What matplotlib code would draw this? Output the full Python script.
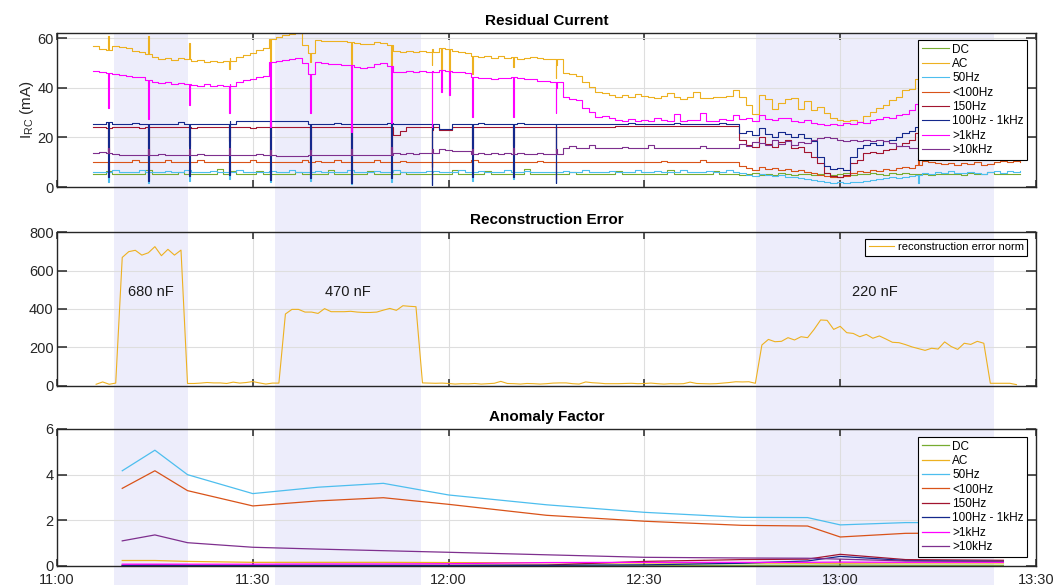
import numpy as np
import matplotlib
matplotlib.use("Agg")
import matplotlib.pyplot as plt
from matplotlib.patches import Rectangle
from matplotlib.transforms import blended_transform_factory

plt.rcParams['font.family'] = ['Liberation Sans', 'DejaVu Sans']
plt.rcParams['mathtext.fontset'] = 'custom'
plt.rcParams['mathtext.rm'] = 'Liberation Sans'
plt.rcParams['mathtext.it'] = 'Liberation Sans:italic'

# --- dados (tempo em minutos depois das 11:00) ---
BANDS = ['DC', 'AC', '50Hz', '<100Hz', '150Hz', '100Hz - 1kHz', '>1kHz', '>10kHz']
COLORS = ['#77AC30', '#EDB120', '#4DBEEE', '#D95319', '#A2142F', '#14288C', '#FF00FF', '#7E2F8E']

# corrente residual, uma amostra por minuto
T_RC = np.arange(5.5, 148.0, 1.0)

dc_ma = [5.3, 5.3, 6.4, 5.3, 5.3, 5.3, 5.3, 5.3, 6.8, 5.3,
         5.3, 5.3, 5.3, 6.2, 5.3, 5.3, 5.3, 5.3, 5.3, 7.2,
         5.3, 6.4, 5.3, 5.3, 5.3, 6.6, 5.3, 5.3, 5.3, 5.3,
         5.3, 6.2, 5.3, 5.3, 5.3, 5.3, 7.0, 5.3, 5.3, 5.3,
         5.3, 5.3, 6.6, 5.3, 5.3, 5.3, 5.3, 6.2, 5.3, 5.3,
         5.3, 5.3, 5.3, 5.3, 5.3, 6.8, 5.3, 5.3, 5.3, 5.3,
         6.4, 5.3, 5.3, 5.3, 5.3, 5.3, 7.4, 5.3, 5.3, 5.3,
         5.3, 5.3, 5.3, 6.2, 5.3, 5.3, 5.3, 5.3, 5.3, 5.3,
         6.6, 5.3, 5.3, 5.3, 5.3, 5.3, 5.3, 5.3, 6.9, 5.3,
         5.3, 5.3, 5.3, 5.3, 5.3, 6.4, 5.3, 5.3, 5.3, 5.0,
         5.4, 5.8, 5.0, 5.4, 4.8, 5.6, 5.2, 4.9, 5.4, 5.1,
         4.8, 5.3, 5.6, 4.9, 5.2, 5.5, 5.0, 5.4, 5.2, 5.8,
         5.3, 5.0, 5.5, 5.2, 5.6, 5.1, 5.4, 5.2, 5.0, 5.3,
         5.4, 5.1, 5.2, 5.0, 5.5, 5.3, 5.1, 6.2, 5.2, 5.3,
         5.1, 5.4, 5.2]

ac_ma = [56.9, 55.6, 55.0, 56.9, 56.3, 55.8, 54.9, 54.4, 53.6, 52.2,
         51.5, 52.0, 51.2, 51.8, 51.4, 50.8, 51.2, 50.4, 50.9, 50.2,
         50.6, 51.8, 52.4, 53.2, 53.8, 55.0, 56.0, 59.6, 60.4, 61.2,
         61.6, 62.0, 57.0, 54.0, 59.2, 58.8, 59.0, 58.6, 58.9, 58.4,
         57.8, 57.4, 57.6, 58.2, 57.8, 57.2, 54.9, 54.4, 54.8, 54.2,
         54.6, 54.3, 55.6, 55.8, 55.4, 54.9, 54.3, 54.0, 52.9, 52.4,
         52.8, 52.1, 52.6, 51.9, 52.2, 51.6, 52.0, 52.4, 51.8, 51.4,
         51.6, 49.0, 46.0, 45.4, 44.6, 42.4, 40.2, 38.3, 37.8, 37.2,
         36.4, 36.9, 36.1, 37.5, 36.6, 36.2, 35.8, 36.6, 37.9, 36.3,
         35.6, 36.4, 38.3, 36.0, 35.8, 36.2, 36.1, 36.6, 38.9, 36.2,
         33.0, 29.6, 37.0, 35.4, 31.6, 33.8, 35.6, 36.0, 31.4, 34.6,
         30.9, 32.4, 29.8, 27.6, 27.0, 26.5, 26.9, 26.2, 28.6, 30.2,
         31.8, 33.0, 34.9, 36.4, 38.9, 39.6, 43.6, 42.0, 41.2, 40.4,
         41.6, 42.4, 40.8, 41.4, 42.2, 41.0, 40.6, 41.8, 42.6, 41.2,
         40.4, 41.6, 42.0]

hz50_ma = [6.0, 6.0, 6.0, 6.9, 6.0, 6.0, 6.0, 6.9, 6.0, 6.0,
           6.0, 6.6, 6.0, 6.0, 6.9, 6.0, 6.0, 6.0, 6.6, 6.0,
           6.0, 6.0, 6.9, 6.0, 6.0, 6.0, 6.0, 6.6, 6.0, 6.0,
           6.9, 6.0, 6.0, 6.0, 6.6, 6.0, 6.0, 6.0, 6.0, 6.9,
           6.0, 6.0, 6.0, 6.6, 6.0, 6.0, 6.9, 6.0, 6.0, 6.0,
           6.0, 6.6, 6.0, 6.0, 6.0, 6.0, 6.9, 6.0, 6.0, 6.6,
           6.0, 6.0, 6.0, 6.9, 6.0, 6.0, 6.6, 6.0, 6.0, 6.0,
           6.0, 6.0, 6.6, 6.0, 6.0, 6.9, 6.0, 6.0, 6.0, 6.6,
           6.0, 6.0, 6.0, 6.9, 6.0, 6.0, 6.6, 6.0, 6.0, 6.0,
           6.9, 6.0, 6.0, 6.0, 6.6, 6.0, 6.0, 6.9, 6.0, 5.6,
           5.0, 4.6, 5.2, 4.8, 4.4, 4.8, 4.2, 4.0, 3.6, 3.4,
           3.0, 2.6, 2.2, 1.8, 2.0, 1.6, 2.0, 2.2, 2.6, 3.0,
           3.4, 3.6, 4.0, 3.8, 4.2, 4.4, 4.8, 5.8, 5.4, 6.0,
           5.6, 6.4, 5.8, 5.6, 6.2, 5.8, 5.4, 6.0, 6.6, 5.8,
           6.4, 6.2, 6.6]

lt100_ma = [10.0, 10.0, 10.0, 10.0, 10.0, 10.0, 10.8, 10.0, 10.0, 10.0,
            10.0, 10.8, 10.0, 10.0, 10.0, 10.0, 11.0, 10.0, 10.0, 10.0,
            10.0, 10.0, 10.0, 10.0, 10.8, 10.0, 10.0, 10.0, 10.0, 10.0,
            10.0, 10.0, 10.8, 10.0, 10.6, 10.0, 10.0, 11.0, 10.0, 10.0,
            10.0, 10.0, 10.0, 10.8, 10.0, 10.0, 10.0, 10.6, 10.0, 10.0,
            10.0, 10.0, 10.0, 10.0, 10.0, 10.0, 10.0, 10.0, 10.8, 10.0,
            10.0, 10.0, 10.0, 10.0, 10.0, 10.0, 10.0, 10.0, 10.6, 10.0,
            10.0, 10.0, 10.0, 10.0, 10.0, 10.0, 10.0, 10.0, 10.0, 10.0,
            10.0, 10.0, 10.0, 10.0, 10.0, 10.0, 10.0, 10.6, 10.0, 10.0,
            10.0, 10.0, 10.0, 11.0, 10.0, 10.0, 10.0, 10.0, 10.0, 8.4,
            7.8, 7.0, 8.0, 7.2, 7.6, 6.8, 7.2, 6.6, 6.9, 6.0,
            5.6, 5.0, 4.6, 4.2, 4.0, 4.4, 5.6, 6.4, 6.0, 6.9,
            6.6, 7.4, 7.0, 7.8, 8.2, 7.6, 8.8, 10.6, 10.0, 9.6,
            9.2, 9.8, 9.0, 9.6, 9.2, 10.0, 8.8, 9.4, 10.2, 10.4,
            10.0, 10.3, 10.2]

hz150_ma = [24.2, 24.2, 23.8, 24.2, 24.2, 24.2, 24.2, 23.8, 24.2, 24.2,
            24.2, 24.2, 24.2, 24.2, 24.2, 23.8, 24.2, 24.2, 24.2, 24.2,
            24.2, 24.2, 24.2, 24.2, 23.8, 24.2, 24.2, 24.2, 24.2, 24.2,
            24.2, 24.2, 24.2, 24.2, 24.2, 24.2, 24.2, 24.2, 24.2, 24.2,
            24.2, 24.2, 24.2, 24.2, 24.2, 24.2, 21.0, 22.4, 24.2, 24.2,
            24.2, 24.2, 22.9, 22.9, 22.9, 24.2, 24.2, 24.2, 24.2, 24.2,
            24.2, 24.2, 24.2, 24.2, 24.2, 24.2, 24.2, 24.2, 24.2, 24.2,
            24.2, 24.2, 24.2, 24.2, 24.2, 24.2, 24.2, 24.2, 24.2, 24.2,
            24.5, 24.5, 24.5, 24.5, 24.5, 24.5, 24.5, 24.5, 24.5, 24.5,
            24.5, 24.5, 24.5, 24.5, 24.5, 24.5, 24.5, 24.5, 24.5, 18.9,
            17.0, 16.2, 20.2, 17.4, 16.2, 18.0, 18.9, 15.8, 16.2, 14.0,
            12.2, 9.6, 5.6, 4.6, 4.2, 5.0, 9.6, 10.9, 13.6, 14.2,
            13.8, 14.9, 15.4, 16.4, 17.6, 19.0, 21.6, 20.4, 20.4, 20.4,
            20.4, 20.4, 20.4, 20.4, 20.4, 20.4, 20.4, 20.4, 20.4, 20.4,
            20.4, 20.4, 20.4]

band_ma = [25.3, 25.3, 26.0, 25.3, 25.3, 25.3, 25.8, 25.3, 25.3, 25.3,
           25.3, 25.3, 25.3, 26.0, 25.3, 25.3, 25.3, 25.3, 25.3, 25.3,
           25.3, 26.6, 26.6, 26.6, 26.6, 26.6, 26.6, 26.6, 26.6, 26.6,
           26.6, 26.6, 26.6, 25.3, 25.3, 25.3, 25.3, 25.8, 25.3, 25.3,
           25.3, 25.3, 25.3, 25.3, 25.3, 25.8, 25.3, 25.3, 25.3, 25.3,
           25.3, 25.3, 23.4, 23.4, 23.4, 25.3, 25.3, 25.3, 25.3, 25.8,
           25.3, 25.3, 25.3, 25.3, 25.3, 25.8, 25.3, 25.3, 25.3, 25.3,
           25.3, 25.3, 25.3, 25.3, 25.3, 25.3, 25.3, 25.3, 25.3, 25.3,
           25.3, 25.3, 25.8, 25.3, 25.3, 25.3, 25.3, 25.3, 25.3, 25.8,
           25.3, 25.3, 25.3, 25.3, 25.3, 25.3, 25.8, 25.3, 25.3, 21.6,
           22.4, 21.0, 23.6, 21.2, 20.2, 22.0, 21.4, 20.0, 21.2, 19.8,
           18.6, 12.2, 8.6, 7.2, 7.8, 7.0, 12.0, 15.6, 16.9, 17.6,
           17.0, 18.4, 18.9, 20.2, 21.6, 22.4, 24.2, 24.0, 24.0, 24.0,
           24.0, 24.0, 24.0, 24.0, 24.0, 24.0, 24.0, 24.0, 24.0, 24.0,
           24.0, 24.0, 24.0]

gt1k_ma = [46.9, 46.2, 45.8, 45.6, 45.2, 44.8, 44.5, 44.2, 43.0, 42.2,
           41.8, 42.3, 41.6, 42.0, 41.4, 41.2, 40.8, 41.4, 40.6, 40.9,
           40.5, 41.6, 42.4, 42.9, 43.4, 44.2, 44.9, 50.2, 50.9, 51.2,
           51.6, 52.0, 50.0, 45.6, 50.2, 49.8, 49.4, 49.6, 49.0, 49.2,
           48.4, 47.8, 48.2, 49.6, 49.9, 48.6, 46.5, 46.2, 46.6, 46.3,
           46.7, 46.4, 46.9, 47.0, 46.8, 46.2, 46.4, 46.0, 44.2, 43.8,
           44.1, 43.6, 44.0, 43.7, 44.2, 43.8, 43.4, 43.6, 42.8, 42.5,
           42.2, 39.8, 36.4, 35.6, 34.9, 32.0, 30.2, 28.0, 28.4, 27.6,
           27.0, 26.6, 27.4, 26.7, 26.8, 26.4, 27.6, 26.9, 26.5, 29.4,
           26.6, 27.0, 26.8, 29.7, 26.7, 26.5, 27.2, 26.8, 29.0, 27.2,
           27.6, 26.4, 28.9, 27.4, 26.9, 27.8, 27.6, 26.6, 26.2, 26.8,
           25.6, 25.2, 24.9, 25.4, 25.0, 25.6, 25.2, 26.2, 25.8, 26.9,
           27.4, 28.2, 27.6, 28.9, 29.4, 30.9, 33.6, 31.0, 30.2, 30.8,
           30.0, 31.2, 30.6, 30.0, 30.8, 31.0, 30.2, 30.6, 31.4, 30.8,
           30.0, 30.6, 30.8]

gt10k_ma = [13.6, 14.2, 13.8, 13.2, 12.9, 12.9, 12.9, 12.9, 13.0, 12.9,
            13.4, 12.9, 12.9, 12.9, 12.9, 12.9, 13.1, 12.9, 12.9, 12.9,
            12.9, 12.9, 12.9, 12.9, 12.9, 13.2, 12.9, 12.9, 12.5, 12.5,
            12.5, 12.5, 12.5, 12.9, 12.9, 12.9, 12.9, 12.9, 12.9, 12.9,
            12.9, 12.9, 12.9, 12.9, 12.9, 12.9, 13.6, 13.2, 13.8, 13.4,
            13.9, 13.5, 15.3, 15.2, 15.0, 14.6, 14.6, 14.4, 13.3, 13.6,
            13.3, 13.8, 13.3, 13.5, 13.3, 13.7, 13.3, 13.3, 13.6, 13.3,
            13.3, 15.2, 15.6, 16.4, 15.6, 15.6, 16.9, 15.6, 15.8, 15.6,
            15.6, 16.2, 15.6, 15.6, 15.6, 16.9, 15.6, 15.6, 15.6, 15.8,
            15.6, 15.6, 15.6, 16.4, 15.6, 15.6, 15.6, 15.6, 15.6, 17.4,
            16.6, 18.2, 17.6, 17.0, 18.9, 17.2, 18.4, 16.9, 18.2, 17.6,
            18.9, 19.6, 20.2, 19.6, 18.9, 18.6, 18.9, 18.4, 18.9, 18.4,
            18.9, 18.6, 17.6, 16.4, 16.6, 15.6, 15.8, 15.8, 15.8, 15.8,
            15.8, 15.8, 15.8, 15.8, 15.8, 15.8, 15.8, 15.8, 15.8, 15.8,
            15.8, 15.8, 15.8]

# comutacoes: picos curtos que aparecem em quase todas as bandas
SPIKE_T = [7.8, 14.0, 20.2, 26.4, 32.6, 38.8, 45.0, 51.2, 57.4, 63.6, 69.9, 76.4]
ac_spk = [60.9, 60.9, 57.8, 47.6, 50.0, 50.5, 48.0, 48.9, 49.0, 45.6, 48.2, 44.0]
hz50_spk = [2.2, 1.6, 2.6, 3.2, 2.2, 2.6, 1.2, 2.2, 1.0, 2.6, 3.2, 1.6]
lt100_spk = [5.6, 4.2, 5.6, 6.2, 4.2, 5.6, 4.6, 5.2, 3.2, 5.6, 6.2, 3.2]
hz150_spk = [14.4, 10.3, 16.4, 18.5, 12.3, 14.4, 10.3, 13.4, 8.2, 15.4, 16.4, 14.4]
band_spk = [4.0, 2.5, 4.5, 5.0, 3.0, 3.5, 1.5, 3.5, 1.0, 4.0, 4.0, 1.5]
gt1k_spk = [32.0, 27.2, 32.9, 29.8, 24.0, 29.8, 22.0, 25.8, 24.0, 28.0, 28.0, 30.0]
gt10k_spk = [15.6, 15.2, 15.4, 15.8, 14.8, 15.0, 15.2, 16.0, 14.6, 15.4, 15.6, 15.2]
DIP_T = [58.8, 60.1]
ac_dip = [47.0, 46.0]
gt1k_dip = [38.2, 36.9]
LATE_T = [131.9]
hz50_late = [1.8]
lt100_late = [11.6]

# erro de reconstrucao, uma amostra por minuto
T_ERR = np.arange(6, 148)
err_norm = [9, 21, 9, 15, 668, 698, 705, 680, 692, 724,
            677, 710, 680, 706, 13, 13, 15, 18, 16, 16,
            13, 20, 15, 18, 23, 16, 10, 15, 15, 374,
            398, 398, 384, 384, 377, 402, 386, 386, 386, 388,
            384, 382, 382, 384, 394, 403, 393, 417, 414, 412,
            16, 15, 14, 15, 13, 10, 12, 11, 13, 10,
            12, 14, 24, 13, 12, 10, 13, 12, 10, 12,
            15, 16, 16, 12, 10, 21, 17, 15, 12, 12,
            12, 13, 14, 12, 13, 15, 12, 10, 12, 11,
            12, 20, 13, 12, 11, 12, 15, 18, 22, 21,
            22, 14, 213, 242, 230, 232, 251, 239, 256, 251,
            294, 343, 341, 294, 310, 277, 273, 256, 268, 248,
            260, 244, 227, 225, 215, 203, 194, 185, 196, 192,
            229, 205, 190, 222, 216, 232, 222, 14, 14, 14,
            14, 7]

# capacitores ligados
CAP_START = [8.7, 33.4, 107.1]
CAP_END = [20.1, 55.8, 143.5]
CAP_LABEL = ['680 nF', '470 nF', '220 nF']

# fator de anomalia
T_AF = [10, 15, 20, 30, 40, 50, 60, 75, 90, 105, 115, 120, 130, 145]
af_dc = [0.02, 0.02, 0.02, 0.02, 0.02, 0.02, 0.02, 0.03, 0.03, 0.03, 0.03, 0.04, 0.03, 0.03]
af_ac = [0.24, 0.24, 0.20, 0.16, 0.16, 0.16, 0.15, 0.14, 0.13, 0.13, 0.12, 0.12, 0.13, 0.13]
af_50 = [4.17, 5.07, 4.00, 3.17, 3.45, 3.62, 3.11, 2.68, 2.35, 2.13, 2.12, 1.80, 1.90, 1.90]
af_lt100 = [3.40, 4.17, 3.30, 2.63, 2.85, 2.99, 2.70, 2.22, 1.96, 1.78, 1.75, 1.27, 1.43, 1.45]
af_150 = [0.03, 0.04, 0.03, 0.03, 0.03, 0.03, 0.03, 0.04, 0.20, 0.28, 0.30, 0.51, 0.28, 0.25]
af_band = [0.02, 0.03, 0.02, 0.02, 0.02, 0.02, 0.02, 0.03, 0.05, 0.12, 0.22, 0.42, 0.24, 0.20]
af_1k = [0.08, 0.08, 0.08, 0.08, 0.09, 0.09, 0.10, 0.15, 0.16, 0.16, 0.16, 0.17, 0.16, 0.16]
af_10k = [1.10, 1.36, 1.02, 0.82, 0.74, 0.67, 0.60, 0.49, 0.38, 0.35, 0.34, 0.30, 0.22, 0.20]

TICK_POS = [0, 30, 60, 90, 120, 150]
TICK_LAB = ['11:00', '11:30', '12:00', '12:30', '13:00', '13:30']


def com_picos(base, tempos, valores, largura=0.15):
    # insere um pico curto e volta ao valor da amostra anterior
    base = np.asarray(base, float)
    tempos = np.asarray(tempos, float)
    idx = np.searchsorted(T_RC, tempos, side='right') - 1
    t = np.concatenate([T_RC, tempos, tempos + largura])
    v = np.concatenate([base, valores, base[idx]])
    ordem = np.argsort(t, kind='stable')
    return t[ordem], v[ordem]


def estilo(ax):
    ax.set_facecolor('none')
    ax.set_xlim(0, 150)
    ax.set_xticks(TICK_POS)
    ax.grid(True, color='#dedede', linewidth=0.8)
    ax.set_axisbelow(True)
    ax.tick_params(direction='in', width=1.1, top=True, right=True,
                   colors='#262626', labelsize=10.5)
    ax.tick_params(axis='x', length=5, pad=5)
    ax.tick_params(axis='y', length=7.5, pad=2.5)
    for s in ax.spines.values():
        s.set_color('#262626')
        s.set_linewidth(1.0)


def legenda(ax, tam=8.5, espaco=0.2, **kw):
    leg = ax.legend(fontsize=tam, frameon=True, fancybox=False, framealpha=1,
                    edgecolor='black', borderaxespad=0, handlelength=2.3,
                    handletextpad=0.3, borderpad=0.3, labelspacing=espaco, **kw)
    leg.get_frame().set_linewidth(0.8)
    return leg


fig = plt.figure(figsize=(10.59, 5.85), dpi=100)
ax1 = fig.add_axes([0.0538, 0.6803, 0.9245, 0.2632])
ax2 = fig.add_axes([0.0538, 0.3402, 0.9245, 0.2632])
ax3 = fig.add_axes([0.0538, 0.0325, 0.9245, 0.2342])

# faixas dos capacitores, atravessando os tres graficos
trans = blended_transform_factory(ax1.transData, fig.transFigure)
for a, b in zip(CAP_START, CAP_END):
    fig.add_artist(Rectangle((a, 0), b - a, 0.9436, transform=trans,
                             facecolor='#ededfb', edgecolor='none', zorder=-5))

# --- Residual Current ---
series = [
    (T_RC, np.asarray(dc_ma)),
    com_picos(ac_ma, SPIKE_T + DIP_T, ac_spk + ac_dip),
    com_picos(hz50_ma, SPIKE_T + LATE_T, hz50_spk + hz50_late),
    com_picos(lt100_ma, SPIKE_T + LATE_T, lt100_spk + lt100_late),
    com_picos(hz150_ma, SPIKE_T, hz150_spk),
    com_picos(band_ma, SPIKE_T, band_spk),
    com_picos(gt1k_ma, SPIKE_T + DIP_T, gt1k_spk + gt1k_dip),
    com_picos(gt10k_ma, SPIKE_T, gt10k_spk),
]
for (t, v), nome, cor in zip(series, BANDS, COLORS):
    ax1.plot(t, v, drawstyle='steps-post', color=cor, lw=0.8, label=nome)
estilo(ax1)
ax1.set_ylim(0, 62)
ax1.set_yticks([0, 20, 40, 60])
ax1.set_xticklabels([])
ax1.set_ylabel('I$_{\\rm RC}$ (mA)', fontsize=11, color='#262626', labelpad=1)
ax1.set_title('Residual Current', fontsize=11, fontweight='bold')
legenda(ax1, loc='upper left', bbox_to_anchor=(0.8795, 0.9545))

# --- Reconstruction Error ---
ax2.plot(T_ERR, err_norm, color='#EDB120', lw=0.8, label='reconstruction error norm')
for a, b, txt in zip(CAP_START, CAP_END, CAP_LABEL):
    ax2.text((a + b) / 2, 490, txt, ha='center', va='center', fontsize=10.5, color='#1a1a1a')
estilo(ax2)
ax2.set_ylim(0, 800)
ax2.set_yticks([0, 200, 400, 600, 800])
ax2.set_xticklabels([])
ax2.set_title('Reconstruction Error', fontsize=11, fontweight='bold')
legenda(ax2, tam=8, espaco=0.15, loc='upper right', bbox_to_anchor=(0.9908, 0.9545))

# --- Anomaly Factor ---
fatores = [af_dc, af_ac, af_50, af_lt100, af_150, af_band, af_1k, af_10k]
for v, nome, cor in zip(fatores, BANDS, COLORS):
    ax3.plot(T_AF, v, color=cor, lw=0.9, label=nome)
estilo(ax3)
ax3.set_ylim(0, 6)
ax3.set_yticks([0, 2, 4, 6])
ax3.set_xticklabels(TICK_LAB)
ax3.set_title('Anomaly Factor', fontsize=11, fontweight='bold')
legenda(ax3, loc='upper left', bbox_to_anchor=(0.8795, 0.9416))

fig.savefig('out.png', dpi=100)
